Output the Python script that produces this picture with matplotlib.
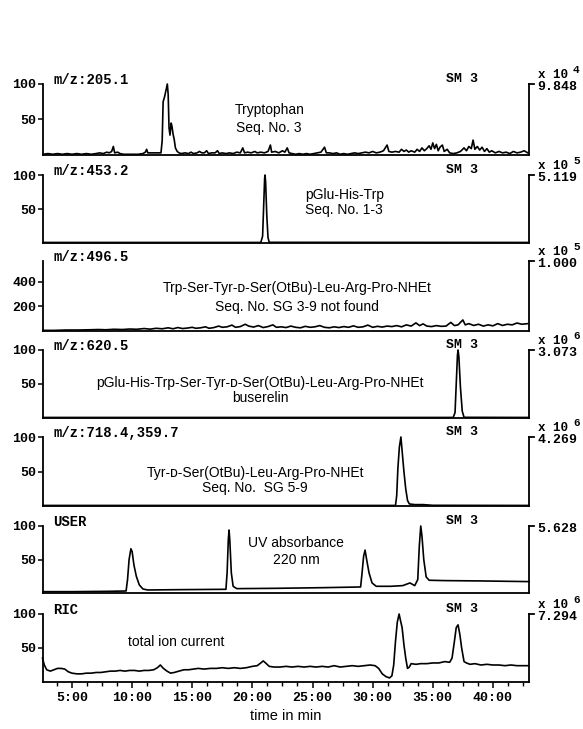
import matplotlib
matplotlib.use("Agg")
import matplotlib.pyplot as plt
from matplotlib.ticker import MultipleLocator, FixedLocator

MONO = "Liberation Mono"
SANS = ["Liberation Sans", "DejaVu Sans"]

# ---- traces (time in min, % of panel scale) ----
trp_t = [2.6, 3.0, 3.4, 3.8, 4.2, 4.6, 5.0, 5.4, 5.8, 6.2, 6.6, 7.0, 7.3, 7.6, 7.9, 8.1, 8.3, 8.44, 8.55, 8.8,
         9.0, 9.3, 9.7, 10.1, 10.5, 10.9, 11.1, 11.21, 11.3, 11.6, 12.0, 12.4, 12.5, 12.58, 12.7, 12.8, 12.93,
         13.0, 13.07, 13.15, 13.25, 13.32, 13.4, 13.5, 13.6, 13.75, 13.9, 14.1, 14.4, 14.7, 14.9, 15.1, 15.4,
         15.6, 15.8, 16.0, 16.2, 16.35, 16.6, 16.9, 17.1, 17.25, 17.5, 17.8, 18.1, 18.4, 18.7, 19.0, 19.2,
         19.35, 19.6, 19.9, 20.2, 20.4, 20.7, 21.0, 21.3, 21.5, 21.6, 21.9, 22.2, 22.5, 22.7, 22.9, 23.05,
         23.3, 23.6, 23.9, 24.2, 24.5, 24.8, 25.1, 25.4, 25.7, 26.0, 26.15, 26.4, 26.7, 27.0, 27.3, 27.6,
         27.9, 28.2, 28.5, 28.8, 29.1, 29.4, 29.7, 30.0, 30.3, 30.6, 30.9, 31.2, 31.35, 31.6, 31.9, 32.2,
         32.4, 32.6, 32.8, 33.0, 33.2, 33.5, 33.7, 33.9, 34.1, 34.3, 34.5, 34.7, 34.85, 35.0, 35.15, 35.3,
         35.45, 35.6, 35.8, 35.95, 36.2, 36.4, 36.7, 37.0, 37.3, 37.6, 37.8, 38.0, 38.2, 38.35, 38.5, 38.7,
         38.9, 39.1, 39.3, 39.5, 39.7, 39.9, 40.2, 40.5, 40.8, 41.1, 41.4, 41.7, 42.0, 42.3, 42.6, 42.9]
trp_v = [1, 2, 1, 2, 1, 2, 1, 2, 1, 2, 1, 2, 3, 2, 4, 3, 5, 12, 3, 4,
         2, 1, 1, 1, 1, 2, 4, 8, 3, 3, 3, 3, 20, 75, 82, 90, 100,
         85, 38, 28, 45, 40, 30, 22, 10, 5, 3, 2, 3, 2, 4, 2, 3,
         5, 3, 3, 6, 2, 3, 3, 6, 2, 3, 2, 3, 2, 4, 3, 10,
         3, 4, 3, 5, 3, 4, 3, 5, 14, 4, 5, 3, 6, 4, 10, 3,
         2, 1, 2, 1, 2, 1, 2, 3, 4, 11, 3, 3, 2, 3, 1, 2,
         1, 2, 3, 2, 3, 4, 3, 5, 3, 4, 6, 14, 5, 4, 5, 4,
         8, 5, 7, 4, 6, 4, 8, 5, 10, 6, 9, 13, 8, 17, 9, 15,
         6, 11, 14, 5, 8, 3, 2, 3, 5, 10, 6, 12, 9, 21, 8, 12,
         7, 11, 5, 9, 4, 6, 3, 5, 3, 4, 2, 5, 3, 4, 6, 3]

pglu_t = [2.6, 20.7, 20.85, 20.95, 21.02, 21.05, 21.1, 21.2, 21.3, 21.4, 43.0]
pglu_v = [0.8, 0.8, 10, 60, 95, 100, 90, 40, 8, 1, 0.8]

sg39_t = [2.6, 3.5, 4.5, 5.5, 6.5, 7.2, 7.8, 8.5, 9.2, 9.8, 10.4, 11.0, 11.5, 12.0, 12.5, 13.0, 13.4, 13.8,
          14.2, 14.6, 15.0, 15.3, 15.7, 16.1, 16.4, 16.8, 17.2, 17.5, 17.9, 18.3, 18.6, 19.0, 19.4, 19.7,
          20.1, 20.5, 20.9, 21.3, 21.7, 22.0, 22.4, 22.8, 23.2, 23.6, 24.0, 24.4, 24.8, 25.2, 25.6, 26.0,
          26.4, 26.8, 27.2, 27.6, 28.0, 28.4, 28.8, 29.2, 29.6, 30.0, 30.4, 30.8, 31.2, 31.6, 32.0, 32.4,
          32.8, 33.2, 33.6, 33.9, 34.2, 34.5, 34.9, 35.3, 35.7, 36.1, 36.5, 36.8, 37.1, 37.5, 37.7, 38.0,
          38.4, 38.8, 39.2, 39.6, 40.0, 40.4, 40.8, 41.2, 41.6, 42.0, 42.4, 42.9]
sg39_v = [5, 5, 8, 8, 10, 12, 10, 14, 12, 16, 14, 20, 15, 22, 18, 26, 18, 28,
          20, 24, 30, 22, 26, 34, 22, 28, 40, 30, 34, 48, 30, 36, 55, 40,
          32, 44, 28, 36, 50, 30, 34, 28, 40, 30, 26, 38, 30, 34, 44, 30,
          26, 34, 28, 36, 30, 42, 30, 34, 48, 30, 38, 32, 40, 36, 44, 34,
          50, 40, 66, 44, 58, 40, 36, 44, 38, 40, 70, 44, 50, 90, 50, 60,
          45, 55, 40, 50, 42, 60, 45, 55, 50, 65, 55, 60]

bus_t = [2.6, 36.7, 36.85, 36.95, 37.05, 37.1, 37.17, 37.3, 37.45, 37.6, 43.0]
bus_v = [0.8, 0.8, 8, 50, 92, 100, 90, 45, 10, 1, 0.8]

sg59_t = [2.6, 31.9, 32.0, 32.1, 32.22, 32.35, 32.45, 32.6, 32.75, 32.9, 33.05, 33.5, 34.2, 35.0, 43.0]
sg59_v = [0.8, 0.8, 15, 55, 85, 100, 80, 50, 25, 8, 3, 2, 2, 1, 0.8]

uv_t = [2.6, 5.0, 8.0, 9.5, 9.62, 9.75, 9.9, 10.0, 10.15, 10.35, 10.6, 10.9, 11.3, 14.0, 17.8, 17.9, 18.0,
        18.06, 18.12, 18.25, 18.4, 18.7, 22.0, 26.0, 29.0, 29.12, 29.25, 29.37, 29.5, 29.7, 29.95, 30.3,
        31.5, 32.5, 33.1, 33.5, 33.75, 33.88, 34.0, 34.1, 34.25, 34.45, 34.7, 36.0, 39.0, 43.0]
uv_v = [2, 2, 2.5, 3, 20, 50, 66, 62, 42, 25, 12, 6, 4.5, 5, 5.5, 30, 80,
        94, 80, 30, 10, 6.5, 7, 8, 9, 30, 55, 64, 50, 30, 15, 10,
        10, 11, 15, 11, 20, 70, 100, 85, 50, 24, 19, 18.5, 18, 17]

ric_t = [2.55, 2.7, 2.9, 3.2, 3.5, 3.8, 4.1, 4.4, 4.7, 5.0, 5.4, 5.8, 6.2, 6.6, 7.0, 7.4, 7.8, 8.2, 8.6,
         9.0, 9.4, 9.8, 10.2, 10.6, 11.0, 11.4, 11.8, 12.1, 12.35, 12.6, 12.9, 13.2, 13.5, 13.9, 14.3,
         14.7, 15.1, 15.5, 16.0, 16.5, 17.0, 17.5, 18.0, 18.5, 19.0, 19.5, 20.0, 20.4, 20.7, 20.9, 21.1,
         21.4, 21.8, 22.3, 22.8, 23.3, 23.8, 24.3, 24.8, 25.3, 25.8, 26.3, 26.8, 27.3, 27.8, 28.3, 28.8,
         29.3, 29.8, 30.2, 30.5, 30.8, 31.1, 31.4, 31.6, 31.75, 31.9, 32.05, 32.2, 32.32, 32.45, 32.6,
         32.75, 32.9, 33.05, 33.2, 33.6, 34.0, 34.5, 35.0, 35.5, 36.0, 36.4, 36.6, 36.8, 36.95, 37.1,
         37.25, 37.4, 37.6, 37.8, 38.1, 38.5, 39.0, 39.5, 40.0, 40.5, 41.0, 41.5, 42.0, 42.5, 42.95]
ric_v = [35, 25, 18, 16, 18, 20, 20, 19, 15, 13, 12, 12, 13, 13, 14, 14, 15, 16, 16,
         17, 16, 17, 17, 16, 17, 17, 18, 21, 25, 20, 16, 13, 14, 16, 18,
         18, 19, 20, 19, 20, 20, 21, 20, 21, 20, 21, 23, 24, 28, 31, 28,
         23, 22, 22, 23, 22, 23, 22, 23, 22, 23, 22, 24, 22, 23, 24, 23,
         24, 25, 24, 20, 12, 8, 6, 9, 25, 60, 88, 100, 90, 80, 55,
         35, 20, 22, 27, 26, 27, 27, 28, 28, 30, 29, 35, 60, 80, 84,
         70, 50, 30, 28, 26, 27, 25, 26, 25, 25, 24, 25, 24, 24, 24]

traces = [(trp_t, trp_v), (pglu_t, pglu_v), (sg39_t, sg39_v), (bus_t, bus_v),
          (sg59_t, sg59_v), (uv_t, uv_v), (ric_t, ric_v)]

channel_labels = ["m/z:205.1", "m/z:453.2", "m/z:496.5", "m/z:620.5",
                  "m/z:718.4,359.7", "USER", "RIC"]
scale_values = ["9.848", "5.119", "1.000", "3.073", "4.269", "5.628", "7.294"]
scale_exps = ["4", "5", "5", "6", "6", None, "6"]
show_sm = [True, True, False, True, True, True, True]
y_tops = [100, 100, 570, 100, 100, 100, 100]
y_ticks = [[50, 100], [50, 100], [200, 400], [50, 100], [50, 100], [50, 100], [50, 100]]

notes = [
    ["Tryptophan", "Seq. No. 3"],
    ["pGlu-His-Trp", "Seq. No. 1-3"],
    ["Trp-Ser-Tyr-\u1d05-Ser(OtBu)-Leu-Arg-Pro-NHEt", "Seq. No. SG 3-9 not found"],
    ["pGlu-His-Trp-Ser-Tyr-\u1d05-Ser(OtBu)-Leu-Arg-Pro-NHEt", "buserelin"],
    ["Tyr-\u1d05-Ser(OtBu)-Leu-Arg-Pro-NHEt", "Seq. No.  SG 5-9"],
    ["UV absorbance", "220 nm"],
    ["total ion current"],
]
# note placement in axes fraction: x, alignment, line y's
note_pos = [
    (0.466, "center", [0.63, 0.38]),
    (0.540, "left", [0.70, 0.48]),
    (0.523, "center", [0.61, 0.34]),
    (0.447, "center", [0.51, 0.29]),
    (0.437, "center", [0.48, 0.26]),
    (0.521, "center", [0.75, 0.49]),
    (0.275, "center", [0.59]),
]

time_ticks = [5, 10, 15, 20, 25, 30, 35, 40]
time_labels = ["5:00", "10:00", "15:00", "20:00", "25:00", "30:00", "35:00", "40:00"]

# ---- layout (pixels) ----
W, H = 583, 729
x0_px, x1_px = 42.5, 529
tops = [84, 175, 261, 350, 437, 526, 614]
bottoms = [155, 243, 331, 418, 506, 593, 682]
xlim = (2.55, 43.0)

fig = plt.figure(figsize=(W / 100, H / 100), dpi=100)

for i, (t, v) in enumerate(traces):
    hpx = bottoms[i] - tops[i]
    ax = fig.add_axes([x0_px / W, 1 - bottoms[i] / H, (x1_px - x0_px) / W, hpx / H])
    ax.plot(t, v, color="black", lw=1.2, clip_on=False)
    ax.set_xlim(*xlim)
    ax.set_ylim(0, y_tops[i])
    ax.spines["top"].set_visible(False)
    for s in ("left", "right", "bottom"):
        ax.spines[s].set_linewidth(1.3)
    ax.yaxis.set_major_locator(FixedLocator(y_ticks[i]))
    ax.tick_params(axis="y", direction="out", length=3.5, width=1.1, pad=1)
    for lab in ax.get_yticklabels():
        lab.set_fontfamily(MONO)
        lab.set_fontweight("bold")
        lab.set_fontsize(9.5)

    if i == len(traces) - 1:
        ax.xaxis.set_major_locator(FixedLocator(time_ticks))
        ax.set_xticklabels(time_labels, fontfamily=MONO, fontweight="bold", fontsize=9.5)
        ax.xaxis.set_minor_locator(MultipleLocator(1.25))
        ax.tick_params(axis="x", which="major", direction="out", length=4, width=1.1, pad=3)
        ax.tick_params(axis="x", which="minor", direction="out", length=3, width=1.0)
        ax.set_xlabel("time in min", family=SANS, fontsize=10.5, labelpad=4)
    else:
        ax.set_xticks([])

    # top-right bracket tick of the scale axis
    ax.plot([1, 1 + 5 / (x1_px - x0_px)], [1, 1], transform=ax.transAxes,
            color="black", lw=1.3, clip_on=False)

    ax.text(0.022, 1 + 4 / hpx, channel_labels[i], transform=ax.transAxes,
            family=MONO, weight="bold", fontsize=10, ha="left", va="center")
    if show_sm[i]:
        ax.text(0.862, 1 + 5 / hpx, "SM 3", transform=ax.transAxes,
                family=MONO, weight="bold", fontsize=9.5, ha="center", va="center")
    ax.text(1 + 8 / (x1_px - x0_px), 1 - 3 / hpx, scale_values[i], transform=ax.transAxes,
            family=MONO, weight="bold", fontsize=9.5, ha="left", va="center")
    if scale_exps[i]:
        ax.text(1 + 9 / (x1_px - x0_px), 1 + 9 / hpx, "x 10", transform=ax.transAxes,
                family=MONO, weight="bold", fontsize=9, ha="left", va="center")
        ax.text(1 + 44 / (x1_px - x0_px), 1 + 14 / hpx, scale_exps[i], transform=ax.transAxes,
                family=MONO, weight="bold", fontsize=8, ha="left", va="center")

    nx, ha, ys = note_pos[i]
    for line, y in zip(notes[i], ys):
        ax.text(nx, y, line, transform=ax.transAxes, family=SANS, fontsize=10,
                ha=ha, va="center")

fig.savefig("out.png", dpi=100)
